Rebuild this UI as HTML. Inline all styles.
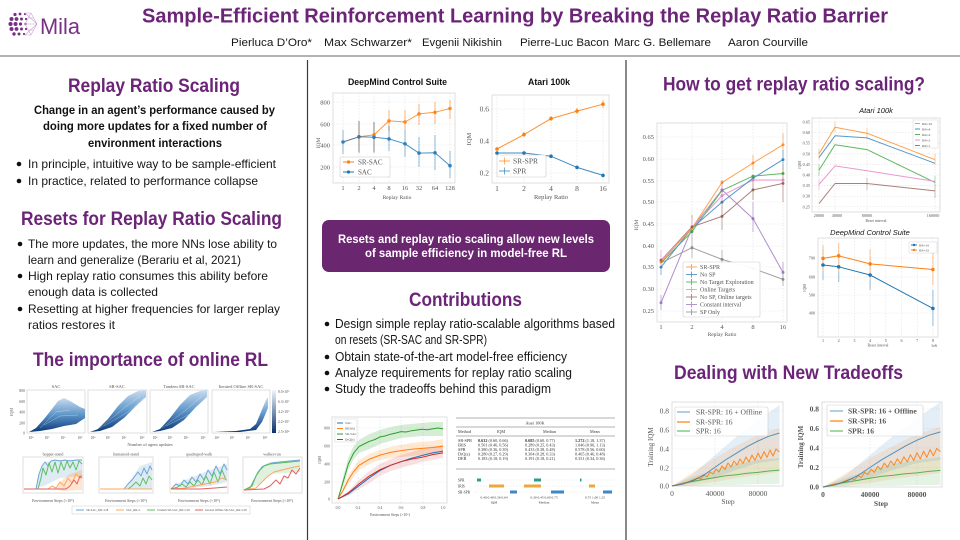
<!DOCTYPE html>
<html><head><meta charset="utf-8">
<style>
html,body{margin:0;padding:0;background:#fff;}
svg{display:block;}
.h{font-family:"Liberation Sans",sans-serif;font-weight:bold;fill:#6b2477;}
.t{font-family:"Liberation Sans",sans-serif;fill:#161616;}
.b{font-family:"Liberation Sans",sans-serif;fill:#111;font-weight:bold;}
.s{font-family:"Liberation Serif",serif;fill:#555;}
.ax{fill:#fff;stroke:#d8d8d8;stroke-width:0.8;}
.gr{stroke:#e2e2e2;stroke-width:0.6;stroke-dasharray:1.5 1.5;fill:none;}
.ln{fill:none;stroke-width:1;stroke-linejoin:round;}
</style></head><body>
<svg width="960" height="540" viewBox="0 0 960 540" xmlns="http://www.w3.org/2000/svg">
<defs>
<linearGradient id="bl" x1="0" y1="0" x2="0" y2="1">
<stop offset="0" stop-color="#c9dcf0"/><stop offset="0.5" stop-color="#5d95c8"/><stop offset="1" stop-color="#0d3a78"/>
</linearGradient>
<linearGradient id="cb" x1="0" y1="0" x2="0" y2="1">
<stop offset="0" stop-color="#f0f6fc"/><stop offset="1" stop-color="#08306b"/>
</linearGradient>
</defs>
<rect width="960" height="540" fill="#fff"/>

<!-- ===== HEADER ===== -->
<g fill="#7a2f86">
<circle cx="15" cy="14.5" r="1.6"/><circle cx="20" cy="14" r="1.4"/><circle cx="25" cy="14" r="1.1"/>
<circle cx="11.5" cy="19" r="2"/><circle cx="16.5" cy="19" r="1.9"/><circle cx="21.5" cy="19" r="1.5"/><circle cx="26" cy="19" r="1.1"/>
<circle cx="10.5" cy="24" r="2.1"/><circle cx="15.5" cy="24" r="2"/><circle cx="20.5" cy="24" r="1.6"/><circle cx="25.5" cy="24" r="1.2"/>
<circle cx="11.5" cy="29" r="2"/><circle cx="16.5" cy="29" r="1.9"/><circle cx="21.5" cy="29" r="1.5"/><circle cx="26" cy="29" r="1.1"/>
<circle cx="14" cy="34" r="1.7"/><circle cx="19" cy="34" r="1.5"/><circle cx="24" cy="34" r="1.1"/>
</g>
<g stroke="#c9a3d0" stroke-width="0.6" fill="none">
<path d="M25 13 L31 13 L37 24 L31 35 L25 35 M25 13 L37 24 M25 35 L37 24 M31 13 L25 24 L31 35 M25 24 L37 24 M28 18 L34 18 M28 30 L34 30"/>
</g>
<text x="40" y="34" class="h" style="font-weight:normal;fill:#7a2f86" font-size="22" textLength="40" lengthAdjust="spacingAndGlyphs">Mila</text>

<text x="142" y="22.5" class="h" font-size="20" textLength="746" lengthAdjust="spacingAndGlyphs">Sample-Efficient Reinforcement Learning by Breaking the Replay Ratio Barrier</text>
<g class="t" font-size="11">
<text x="231" y="46" textLength="81" lengthAdjust="spacingAndGlyphs">Pierluca D’Oro*</text>
<text x="324" y="46" textLength="88" lengthAdjust="spacingAndGlyphs">Max Schwarzer*</text>
<text x="422" y="46" textLength="80" lengthAdjust="spacingAndGlyphs">Evgenii Nikishin</text>
<text x="520" y="46" textLength="89" lengthAdjust="spacingAndGlyphs">Pierre-Luc Bacon</text>
<text x="614" y="46" textLength="97" lengthAdjust="spacingAndGlyphs">Marc G. Bellemare</text>
<text x="728" y="46" textLength="80" lengthAdjust="spacingAndGlyphs">Aaron Courville</text>
</g>
<line x1="0" y1="56" x2="960" y2="56" stroke="#9a9a9a" stroke-width="1.5"/>

<!-- dividers -->
<line x1="307.5" y1="60" x2="307.5" y2="540" stroke="#3a3a3a" stroke-width="1.2"/>
<line x1="626" y1="60" x2="626" y2="540" stroke="#3a3a3a" stroke-width="1.2"/>

<!-- ===== COLUMN 1 ===== -->
<text x="68" y="92" class="h" font-size="19" textLength="172" lengthAdjust="spacingAndGlyphs">Replay Ratio Scaling</text>
<g class="b" font-size="12">
<text x="34" y="114" textLength="241" lengthAdjust="spacingAndGlyphs">Change in an agent’s performance caused by</text>
<text x="43" y="130" textLength="224" lengthAdjust="spacingAndGlyphs">doing more updates for a fixed number of</text>
<text x="88" y="147" textLength="134" lengthAdjust="spacingAndGlyphs">environment interactions</text>
</g>
<g fill="#111">
<circle cx="19" cy="164" r="2.3"/><circle cx="19" cy="181" r="2.3"/>
<circle cx="20" cy="244" r="2.3"/><circle cx="20" cy="276" r="2.3"/><circle cx="20" cy="309" r="2.3"/>
</g>
<g class="t" font-size="12">
<text x="28" y="168" textLength="248" lengthAdjust="spacingAndGlyphs">In principle, intuitive way to be sample-efficient</text>
<text x="28" y="185" textLength="230" lengthAdjust="spacingAndGlyphs">In practice, related to performance collapse</text>
<text x="28" y="248" textLength="249" lengthAdjust="spacingAndGlyphs">The more updates, the more NNs lose ability to</text>
<text x="28" y="264" textLength="213" lengthAdjust="spacingAndGlyphs">learn and generalize (Berariu et al, 2021)</text>
<text x="28" y="280" textLength="240" lengthAdjust="spacingAndGlyphs">High replay ratio consumes this ability before</text>
<text x="28" y="296" textLength="130" lengthAdjust="spacingAndGlyphs">enough data is collected</text>
<text x="28" y="313" textLength="252" lengthAdjust="spacingAndGlyphs">Resetting at higher frequencies for larger replay</text>
<text x="28" y="329" textLength="87" lengthAdjust="spacingAndGlyphs">ratios restores it</text>
</g>
<text x="21" y="225" class="h" font-size="19" textLength="261" lengthAdjust="spacingAndGlyphs">Resets for Replay Ratio Scaling</text>
<text x="33" y="366" class="h" font-size="19" textLength="235" lengthAdjust="spacingAndGlyphs">The importance of online RL</text>

<!-- col1 figure top row -->
<g>
<rect x="27" y="390" width="58" height="43" class="ax"/>
<rect x="88" y="390" width="59" height="43" class="ax"/>
<rect x="150" y="390" width="58" height="43" class="ax"/>
<rect x="212" y="390" width="58" height="43" class="ax"/>
<polygon points="29,432 36,428 44,419 52,409 58,401 64,398 72,402 80,407 85,409 85,418 76,424 64,426 52,429 40,431" fill="url(#bl)"/>
<polygon points="90,432 98,429 108,419 118,406 128,396 138,391 146,390 146,397 136,406 124,418 112,427 100,431" fill="url(#bl)"/>
<polygon points="152,432 160,429 170,418 180,405 190,395 200,391 207,390 207,397 196,407 184,420 172,428 160,431" fill="url(#bl)"/>
<polygon points="214,432 236,431 250,429 256,424 261,412 266,400 268,397 268,408 262,422 256,430 240,432" fill="url(#bl)"/>
<g stroke="#fff" stroke-width="0.4" opacity="0.6" fill="none">
<path d="M40,428 L56,412 L70,410 M44,425 L60,416 L78,415 M100,428 L124,408 L140,396 M104,426 L128,412 L144,398 M162,428 L186,410 L202,396 M166,426 L190,414 L205,400"/>
</g>
<rect x="272" y="390" width="4" height="43" fill="url(#cb)"/>
<g class="s" font-size="4.5" text-anchor="middle">
<text x="56" y="388">SAC</text><text x="117" y="388">SR-SAC</text><text x="179" y="388">Tandem SR-SAC</text><text x="241" y="388">Iterated Offline SR-SAC</text>
<text x="150" y="446">Number of agent updates</text>
</g>
<g class="s" font-size="3.8" text-anchor="end">
<text x="25" y="392">800</text><text x="25" y="403">600</text><text x="25" y="413.5">400</text><text x="25" y="424.5">200</text><text x="25" y="434.5">0</text>
</g>
<g class="s" font-size="3.6">
<text x="278" y="393">8.0×10⁵</text><text x="278" y="403">6.3×10⁵</text><text x="278" y="413">4.2×10⁵</text><text x="278" y="423">2.2×10⁵</text><text x="278" y="433">2.5×10⁴</text>
</g>
<g class="s" font-size="3.6" text-anchor="middle">
<text x="31" y="439">10⁴</text><text x="47" y="439">10⁵</text><text x="63" y="439">10⁶</text><text x="80" y="439">10⁸</text>
<text x="93" y="439">10⁴</text><text x="108" y="439">10⁵</text><text x="124" y="439">10⁶</text><text x="142" y="439">10⁸</text>
<text x="155" y="439">10⁴</text><text x="170" y="439">10⁵</text><text x="186" y="439">10⁶</text><text x="203" y="439">10⁸</text>
<text x="217" y="439">10⁴</text><text x="232" y="439">10⁵</text><text x="248" y="439">10⁶</text><text x="265" y="439">10⁸</text>
</g>
<text transform="translate(13,412) rotate(-90)" class="s" font-size="4" text-anchor="middle">IQM</text>
</g>

<!-- col1 figure bottom row -->
<g>
<rect x="23" y="457" width="60" height="36" class="ax"/>
<rect x="99" y="457" width="54" height="36" class="ax"/>
<rect x="170" y="457" width="58" height="36" class="ax"/>
<rect x="243" y="457" width="59" height="36" class="ax"/>
<g class="s" font-size="4" text-anchor="middle">
<text x="53" y="455.5">hopper-stand</text><text x="126" y="455.5">humanoid-stand</text><text x="199" y="455.5">quadruped-walk</text><text x="272" y="455.5">walker-run</text>
<text x="53" y="502">Environment Steps (×10⁶)</text><text x="126" y="502">Environment Steps (×10⁶)</text><text x="199" y="502">Environment Steps (×10⁶)</text><text x="272" y="502">Environment Steps (×10⁶)</text>
</g>
<!-- hopper -->
<polygon points="36,488 40,470 46,462 60,460 82,460 82,476 60,478 44,486" fill="#1f77b4" opacity="0.15"/>
<polygon points="56,489 62,480 70,474 82,470 82,490 62,491" fill="#ff7f0e" opacity="0.2"/>
<polyline class="ln" stroke="#6aa6d6" points="24,489 36,489 39,474 42,466 45,462 48,466 51,461 55,460 60,461 65,460 70,461 76,460 82,460"/>
<polyline class="ln" stroke="#5fbf5f" points="24,489 38,489 41,478 43,468 46,475 49,463 52,472 55,462 58,473 61,462 64,470 67,461 70,468 73,462 76,470 79,461 82,464"/>
<polyline class="ln" stroke="#ffa75a" points="24,489 48,489 52,486 56,488 60,482 64,486 68,478 72,483 76,474 80,478 82,475"/>
<polyline class="ln" stroke="#e06060" points="24,489 66,489 70,486 74,480 77,484 80,476 82,478"/>
<!-- humanoid -->
<polygon points="124,489 132,478 140,466 152,462 152,489" fill="#1f77b4" opacity="0.15"/>
<polyline class="ln" stroke="#6aa6d6" points="100,489 124,489 128,484 132,480 135,476 138,472 141,476 144,468 147,474 150,466 152,470"/>
<polyline class="ln" stroke="#5fbf5f" points="100,489 128,489 132,486 136,482 140,486 143,478 146,484 149,476 152,480"/>
<polyline class="ln" stroke="#ffa75a" points="100,489 152,489"/>
<!-- quadruped -->
<polygon points="172,486 190,478 210,470 227,464 227,482 210,486 190,488" fill="#1f77b4" opacity="0.15"/>
<polyline class="ln" stroke="#6aa6d6" points="171,489 176,484 180,486 184,480 188,484 192,477 196,482 200,474 204,480 208,470 212,476 216,466 220,474 224,464 227,470"/>
<polyline class="ln" stroke="#5fbf5f" points="171,489 178,487 182,484 186,487 190,482 194,486 198,480 202,485 206,476 210,484 214,472 218,482 222,470 226,480"/>
<polyline class="ln" stroke="#ffa75a" points="171,489 185,488 195,486 205,484 215,482 222,478 227,480"/>
<polyline class="ln" stroke="#e06060" points="171,489 200,489 215,488 227,487"/>
<!-- walker -->
<polygon points="250,488 256,476 262,466 270,462 300,460 300,472 270,474 260,484" fill="#2ca02c" opacity="0.15"/>
<polyline class="ln" stroke="#6aa6d6" points="244,490 250,488 254,480 258,472 262,467 266,465 272,463 280,462 290,461 300,460"/>
<polyline class="ln" stroke="#5fbf5f" points="244,490 252,486 256,476 260,470 264,466 270,464 280,463 290,462 300,461"/>
<polyline class="ln" stroke="#ffa75a" points="244,490 256,488 262,482 268,476 274,472 282,470 290,468 300,466"/>
<polyline class="ln" stroke="#e06060" points="244,490 264,489 270,486 276,480 280,484 284,476 288,478 292,470 296,474 300,468"/>
<rect x="72" y="506" width="178" height="8" fill="#fff" stroke="#ccc" stroke-width="0.5"/>
<g stroke-width="1"><line x1="76" y1="510" x2="84" y2="510" stroke="#6aa6d6"/><line x1="116" y1="510" x2="124" y2="510" stroke="#ffa75a"/><line x1="147" y1="510" x2="155" y2="510" stroke="#5fbf5f"/><line x1="195" y1="510" x2="203" y2="510" stroke="#e06060"/></g>
<g class="s" font-size="3"><text x="86" y="511">SR-SAC_RR=128</text><text x="126" y="511">SAC_RR=1</text><text x="157" y="511">Tandem SR-SAC_RR=128</text><text x="205" y="511">Iterated Offline SR-SAC_RR=128</text></g>
</g>

<!-- ===== COLUMN 2 ===== -->
<text x="348" y="85" class="b" font-size="9.5" textLength="99" lengthAdjust="spacingAndGlyphs">DeepMind Control Suite</text>
<text x="528" y="85" class="b" font-size="9.5" textLength="42" lengthAdjust="spacingAndGlyphs">Atari 100k</text>

<!-- plot DMC RR -->
<rect x="333" y="93" width="122" height="90" class="ax"/>
<g class="gr">
<line x1="333" y1="102" x2="455" y2="102"/><line x1="333" y1="124" x2="455" y2="124"/><line x1="333" y1="145" x2="455" y2="145"/><line x1="333" y1="167" x2="455" y2="167"/>
<line x1="343" y1="93" x2="343" y2="183"/><line x1="359" y1="93" x2="359" y2="183"/><line x1="374" y1="93" x2="374" y2="183"/><line x1="389" y1="93" x2="389" y2="183"/><line x1="405" y1="93" x2="405" y2="183"/><line x1="419" y1="93" x2="419" y2="183"/><line x1="435" y1="93" x2="435" y2="183"/><line x1="450" y1="93" x2="450" y2="183"/>
</g>
<g stroke="#ff7f0e" stroke-width="1.6" opacity="0.35">
<line x1="389" y1="131" x2="389" y2="110"/><line x1="405" y1="130" x2="405" y2="110"/><line x1="419" y1="125" x2="419" y2="104"/><line x1="435" y1="124" x2="435" y2="102"/><line x1="450" y1="119" x2="450" y2="100"/><line x1="359" y1="152" x2="359" y2="121"/><line x1="374" y1="152" x2="374" y2="122"/>
</g>
<g stroke="#1f77b4" stroke-width="1.6" opacity="0.3">
<line x1="343" y1="154" x2="343" y2="130"/><line x1="359" y1="153" x2="359" y2="121"/><line x1="374" y1="153" x2="374" y2="122"/><line x1="389" y1="151" x2="389" y2="126"/><line x1="405" y1="157" x2="405" y2="130"/><line x1="419" y1="167" x2="419" y2="137"/><line x1="435" y1="170" x2="435" y2="135"/><line x1="450" y1="178" x2="450" y2="151"/>
</g>
<polyline class="ln" stroke="#ff7f0e" opacity="0.8" points="343,142 359,136.8 374,134.9 389,120.9 405,122 419,113.9 435,112.3 450,108.5"/>
<polyline class="ln" stroke="#1f77b4" opacity="0.8" points="343,142 359,136.8 374,137.3 389,138.9 405,143.8 419,153.1 435,152.8 450,165.7"/>
<g fill="#ff7f0e" opacity="0.85"><circle cx="359" cy="136.8" r="1.8"/><circle cx="374" cy="134.9" r="1.8"/><circle cx="389" cy="120.9" r="1.8"/><circle cx="405" cy="122" r="1.8"/><circle cx="419" cy="113.9" r="1.8"/><circle cx="435" cy="112.3" r="1.8"/><circle cx="450" cy="108.5" r="1.8"/></g>
<g fill="#1f77b4" opacity="0.85"><circle cx="343" cy="142" r="1.8"/><circle cx="359" cy="136.8" r="1.8"/><circle cx="374" cy="137.3" r="1.8"/><circle cx="389" cy="138.9" r="1.8"/><circle cx="405" cy="143.8" r="1.8"/><circle cx="419" cy="153.1" r="1.8"/><circle cx="435" cy="152.8" r="1.8"/><circle cx="450" cy="165.7" r="1.8"/></g>
<rect x="340" y="157" width="50" height="20" fill="#fff" stroke="#ccc" stroke-width="0.6" rx="1.5"/>
<line x1="343" y1="162" x2="354" y2="162" stroke="#ff7f0e"/><circle cx="348.5" cy="162" r="1.6" fill="#ff7f0e"/>
<line x1="343" y1="172" x2="354" y2="172" stroke="#1f77b4"/><circle cx="348.5" cy="172" r="1.6" fill="#1f77b4"/>
<g class="s" font-size="7"><text x="358" y="164.5">SR-SAC</text><text x="358" y="174.5">SAC</text></g>
<g class="s" font-size="6.5" text-anchor="end"><text x="330" y="104.5">800</text><text x="330" y="126.5">600</text><text x="330" y="147.5">400</text><text x="330" y="169.5">200</text></g>
<g class="s" font-size="6.5" text-anchor="middle"><text x="343" y="190">1</text><text x="359" y="190">2</text><text x="374" y="190">4</text><text x="389" y="190">8</text><text x="405" y="190">16</text><text x="419" y="190">32</text><text x="435" y="190">64</text><text x="450" y="190">128</text>
<text x="397" y="199" font-size="5.5">Replay Ratio</text></g>
<text transform="translate(320,143) rotate(-90)" class="s" font-size="5.5" text-anchor="middle">IQM</text>

<!-- plot Atari RR -->
<rect x="492" y="95" width="117" height="88" class="ax"/>
<g class="gr">
<line x1="492" y1="109" x2="609" y2="109"/><line x1="492" y1="141" x2="609" y2="141"/><line x1="492" y1="173" x2="609" y2="173"/>
<line x1="497" y1="95" x2="497" y2="183"/><line x1="524" y1="95" x2="524" y2="183"/><line x1="551" y1="95" x2="551" y2="183"/><line x1="577" y1="95" x2="577" y2="183"/><line x1="603" y1="95" x2="603" y2="183"/>
</g>
<g stroke="#ff7f0e" stroke-width="1.4" opacity="0.4"><line x1="603" y1="108" x2="603" y2="100"/><line x1="577" y1="114" x2="577" y2="108"/><line x1="551" y1="121" x2="551" y2="116"/><line x1="524" y1="137" x2="524" y2="132"/></g>
<polyline class="ln" stroke="#ff7f0e" opacity="0.85" points="497,149 524,134.6 551,118.6 577,111.1 603,104.2"/>
<polyline class="ln" stroke="#1f77b4" opacity="0.85" points="497,153 524,153 551,156.2 577,167.4 603,175.4"/>
<g fill="#ff7f0e"><circle cx="497" cy="149" r="1.8"/><circle cx="524" cy="134.6" r="1.8"/><circle cx="551" cy="118.6" r="1.8"/><circle cx="577" cy="111.1" r="1.8"/><circle cx="603" cy="104.2" r="1.8"/></g>
<g fill="#1f77b4"><circle cx="497" cy="153" r="1.8"/><circle cx="524" cy="153" r="1.8"/><circle cx="551" cy="156.2" r="1.8"/><circle cx="577" cy="167.4" r="1.8"/><circle cx="603" cy="175.4" r="1.8"/></g>
<rect x="497" y="155" width="49" height="22" fill="#fff" stroke="#ccc" stroke-width="0.6" rx="1.5"/>
<line x1="499" y1="161" x2="510" y2="161" stroke="#ff7f0e" opacity="0.7"/><line x1="504.5" y1="157.5" x2="504.5" y2="164.5" stroke="#ff7f0e" opacity="0.6"/>
<line x1="499" y1="171" x2="510" y2="171" stroke="#1f77b4" opacity="0.7"/><line x1="504.5" y1="167.5" x2="504.5" y2="174.5" stroke="#1f77b4" opacity="0.6"/>
<g class="s" font-size="7.5"><text x="513" y="163.5">SR-SPR</text><text x="513" y="173.5">SPR</text></g>
<g class="s" font-size="7.5" text-anchor="end"><text x="489" y="111.5">0.6</text><text x="489" y="143.5">0.4</text><text x="489" y="175.5">0.2</text></g>
<g class="s" font-size="7.5" text-anchor="middle"><text x="497" y="191">1</text><text x="524" y="191">2</text><text x="551" y="191">4</text><text x="577" y="191">8</text><text x="603" y="191">16</text>
<text x="551" y="199" font-size="6.5">Replay Ratio</text></g>
<text transform="translate(471,139) rotate(-90)" class="s" font-size="6.5" text-anchor="middle">IQM</text>

<!-- purple box -->
<rect x="322" y="220" width="288" height="52" rx="7" fill="#6a2770"/>
<g class="b" style="fill:#fff" font-size="12">
<text x="338" y="243" textLength="256" lengthAdjust="spacingAndGlyphs">Resets and replay ratio scaling allow new levels</text>
<text x="365" y="257" textLength="202" lengthAdjust="spacingAndGlyphs">of sample efficiency in model-free RL</text>
</g>

<text x="409" y="306" class="h" font-size="19" textLength="113" lengthAdjust="spacingAndGlyphs">Contributions</text>
<g fill="#111"><circle cx="327" cy="324" r="2.3"/><circle cx="327" cy="357" r="2.3"/><circle cx="327" cy="373" r="2.3"/><circle cx="327" cy="389" r="2.3"/></g>
<g class="t" font-size="12.5">
<text x="335" y="328" textLength="280" lengthAdjust="spacingAndGlyphs">Design simple replay ratio-scalable algorithms based</text>
<text x="335" y="344" textLength="152" lengthAdjust="spacingAndGlyphs">on resets (SR-SAC and SR-SPR)</text>
<text x="335" y="361" textLength="232" lengthAdjust="spacingAndGlyphs">Obtain state-of-the-art model-free efficiency</text>
<text x="335" y="377" textLength="237" lengthAdjust="spacingAndGlyphs">Analyze requirements for replay ratio scaling</text>
<text x="335" y="393" textLength="216" lengthAdjust="spacingAndGlyphs">Study the tradeoffs behind this paradigm</text>
</g>

<!-- contributions left plot -->
<rect x="332" y="417" width="115" height="86" class="ax"/>
<g class="gr">
<line x1="332" y1="428" x2="447" y2="428"/><line x1="332" y1="446" x2="447" y2="446"/><line x1="332" y1="464" x2="447" y2="464"/><line x1="332" y1="482" x2="447" y2="482"/>
<line x1="358" y1="417" x2="358" y2="503"/><line x1="380" y1="417" x2="380" y2="503"/><line x1="401" y1="417" x2="401" y2="503"/><line x1="423" y1="417" x2="423" y2="503"/>
</g>
<polygon points="338,499 343.25,476 348.5,457 353.75,446 359,440 369.5,434 380,430 390.5,427 401,425 411.5,424 422,423 432.5,422 443,422 443,436 432.5,436 422,436 411.5,437 401,438 390.5,441 380,444 369.5,449 359,453 353.75,459 348.5,469 343.25,486" fill="#2ca02c" opacity="0.2"/>
<polygon points="338,499 348.5,475 359,460 369.5,454 380,450 390.5,447 401,445 411.5,443 422,442 432.5,441 443,439 443,453 432.5,454 422,455 411.5,456 401,457 390.5,458 380,460 369.5,464 359,470 348.5,484" fill="#ff7f0e" opacity="0.18"/>
<polygon points="338,499 348.5,491 359,480 369.5,471 380,464 390.5,459 401,455 411.5,452 422,449 432.5,447 443,445 443,458 432.5,460 422,462 411.5,465 401,468 390.5,471 380,476 369.5,483 359,489 348.5,496" fill="#d62728" opacity="0.14"/>
<polyline class="ln" stroke="#2ca02c" stroke-width="1.2" points="338,499 343.25,481.3 348.5,463.5 353.75,452.9 359,446.6 364,444 369.5,441.3 375,439.5 380,436.9 385,436 390.5,434.2 396,433 401,431.6 406,432 411.5,430.7 417,430 422,429.3 427,429.8 432.5,428.9 438,428 443,428.9"/>
<polyline class="ln" stroke="#ff7f0e" stroke-width="1.2" points="338,499 343.25,490.1 348.5,479.5 353.75,471.5 359,465.3 369.5,459.1 380,455.1 390.5,452.4 401,450.6 411.5,449.3 422,448.4 432.5,447.5 443,446.2"/>
<polyline class="ln" stroke="#1f77b4" stroke-width="1.2" points="338,499 348.5,493.7 359,485.7 369.5,477.7 380,470.6 390.5,465.3 401,461.7 411.5,458.2 422,455.5 432.5,452.9 443,451.1"/>
<polyline class="ln" stroke="#d62728" stroke-width="1.2" points="338,499 348.5,492.8 359,483.9 369.5,475.9 380,469.7 390.5,465.3 401,461.7 411.5,459.1 422,457.3 432.5,454.6 443,452.9"/>
<rect x="335" y="419" width="22" height="23" fill="#fff" stroke="#ccc" stroke-width="0.4"/>
<g stroke-width="1"><line x1="337" y1="423" x2="343" y2="423" stroke="#1f77b4"/><line x1="337" y1="428.5" x2="343" y2="428.5" stroke="#ff7f0e"/><line x1="337" y1="434" x2="343" y2="434" stroke="#2ca02c"/><line x1="337" y1="439.5" x2="343" y2="439.5" stroke="#d62728"/></g>
<g class="s" font-size="3.3"><text x="345" y="424">SAC</text><text x="345" y="429.5">IRIS(k)</text><text x="345" y="435">SR-SAC</text><text x="345" y="440.5">DrQ(ε)</text></g>
<g class="s" font-size="3.8" text-anchor="end"><text x="330" y="429.5">800</text><text x="330" y="447.5">600</text><text x="330" y="465.5">400</text><text x="330" y="483.5">200</text><text x="330" y="500.5">0</text></g>
<g class="s" font-size="3.8" text-anchor="middle"><text x="338" y="509">0.0</text><text x="358" y="509">0.2</text><text x="380" y="509">0.4</text><text x="401" y="509">0.6</text><text x="423" y="509">0.8</text><text x="443" y="509">1.0</text>
<text x="390" y="516">Environment Steps (×10⁶)</text></g>
<text transform="translate(321,460) rotate(-90)" class="s" font-size="3.8" text-anchor="middle">IQM</text>

<!-- table -->
<g stroke="#666" stroke-width="0.6"><line x1="456" y1="418" x2="615" y2="418"/><line x1="456" y1="427" x2="615" y2="427"/><line x1="456" y1="436" x2="615" y2="436"/><line x1="456" y1="469" x2="615" y2="469"/></g>
<g class="s" font-size="4.2" style="fill:#333">
<text x="535" y="424.5" text-anchor="middle">Atari 100K</text>
<text x="458" y="433">Method</text><text x="497" y="433">IQM</text><text x="543" y="433">Median</text><text x="590" y="433">Mean</text>
<text x="458" y="442">SR-SPR</text><text x="478" y="442"><tspan font-weight="bold">0.632</tspan> (0.60, 0.66)</text><text x="525" y="442"><tspan font-weight="bold">0.685</tspan> (0.60, 0.77)</text><text x="575" y="442"><tspan font-weight="bold">1.272</tspan> (1.18, 1.37)</text>
<text x="458" y="446.5">IRIS</text><text x="478" y="446.5">0.501 (0.46, 0.56)</text><text x="525" y="446.5">0.289 (0.25, 0.43)</text><text x="575" y="446.5">1.046 (0.96, 1.13)</text>
<text x="458" y="451">SPR</text><text x="478" y="451">0.380 (0.36, 0.39)</text><text x="525" y="451">0.433 (0.38, 0.48)</text><text x="575" y="451">0.578 (0.56, 0.60)</text>
<text x="458" y="455.5">DrQ(ε)</text><text x="478" y="455.5">0.280 (0.27, 0.29)</text><text x="525" y="455.5">0.304 (0.28, 0.33)</text><text x="575" y="455.5">0.465 (0.46, 0.48)</text>
<text x="458" y="460">DER</text><text x="478" y="460">0.183 (0.18, 0.19)</text><text x="525" y="460">0.191 (0.18, 0.21)</text><text x="575" y="460">0.351 (0.34, 0.36)</text>
</g>
<g class="gr"><line x1="474" y1="480" x2="615" y2="480"/><line x1="474" y1="486" x2="615" y2="486"/><line x1="474" y1="492" x2="615" y2="492"/></g>
<g class="s" font-size="3.6" style="fill:#333"><text x="458" y="481.5">SPR</text><text x="458" y="487.5">IRIS</text><text x="458" y="493.5">SR-SPR</text></g>
<g>
<rect x="477" y="478.5" width="4" height="3" fill="#2a9d8f"/><rect x="489" y="484.5" width="15" height="3" fill="#e9a93d"/><rect x="510" y="490.5" width="7" height="3" fill="#3f86c4"/>
<rect x="534" y="478.5" width="7" height="3" fill="#2a9d8f"/><rect x="524" y="484.5" width="17" height="3" fill="#e9a93d"/><rect x="551" y="490.5" width="13" height="3" fill="#3f86c4"/>
<rect x="580" y="478.5" width="1.5" height="3" fill="#2a9d8f"/><rect x="589" y="484.5" width="6" height="3" fill="#e9a93d"/><rect x="603" y="490.5" width="9" height="3" fill="#3f86c4"/>
</g>
<g class="s" font-size="3.5" style="fill:#333" text-anchor="middle">
<text x="494" y="498.5">0.40 0.48 0.56 0.64</text><text x="544" y="498.5">0.30 0.45 0.60 0.75</text><text x="595" y="498.5">0.75 1.00 1.25</text>
<text x="494" y="503.5">IQM</text><text x="544" y="503.5">Median</text><text x="595" y="503.5">Mean</text>
</g>

<!-- ===== COLUMN 3 ===== -->
<text x="663" y="90.5" class="h" font-size="19" textLength="262" lengthAdjust="spacingAndGlyphs">How to get replay ratio scaling?</text>

<!-- big plot -->
<rect x="657" y="123" width="130" height="199" class="ax"/>
<g class="gr">
<line x1="657" y1="137" x2="787" y2="137"/><line x1="657" y1="159" x2="787" y2="159"/><line x1="657" y1="181" x2="787" y2="181"/><line x1="657" y1="202" x2="787" y2="202"/><line x1="657" y1="224" x2="787" y2="224"/><line x1="657" y1="246" x2="787" y2="246"/><line x1="657" y1="267" x2="787" y2="267"/><line x1="657" y1="289" x2="787" y2="289"/><line x1="657" y1="311" x2="787" y2="311"/>
<line x1="661" y1="123" x2="661" y2="322"/><line x1="692" y1="123" x2="692" y2="322"/><line x1="722" y1="123" x2="722" y2="322"/><line x1="753" y1="123" x2="753" y2="322"/><line x1="783" y1="123" x2="783" y2="322"/>
</g>
<g stroke-width="1.4" opacity="0.35">
<line x1="783" y1="156" x2="783" y2="133" stroke="#ff7f0e"/><line x1="753" y1="170" x2="753" y2="155" stroke="#ff7f0e"/>
<line x1="783" y1="170" x2="783" y2="150" stroke="#1f77b4"/><line x1="661" y1="275" x2="661" y2="258" stroke="#1f77b4"/>
<line x1="783" y1="202" x2="783" y2="165" stroke="#8c564b"/><line x1="753" y1="200" x2="753" y2="178" stroke="#8c564b"/><line x1="722" y1="230" x2="722" y2="202" stroke="#8c564b"/><line x1="692" y1="239" x2="692" y2="215" stroke="#8c564b"/>
<line x1="783" y1="281" x2="783" y2="262" stroke="#9467bd"/><line x1="753" y1="232" x2="753" y2="202" stroke="#9467bd"/><line x1="661" y1="310" x2="661" y2="295" stroke="#9467bd"/><line x1="722" y1="200" x2="722" y2="180" stroke="#9467bd"/>
<line x1="692" y1="258" x2="692" y2="238" stroke="#7f7f7f"/><line x1="722" y1="268" x2="722" y2="250" stroke="#7f7f7f"/><line x1="783" y1="286" x2="783" y2="272" stroke="#7f7f7f"/>
<line x1="661" y1="270" x2="661" y2="250" stroke="#e377c2"/><line x1="722" y1="205" x2="722" y2="186" stroke="#e377c2"/><line x1="692" y1="238" x2="692" y2="218" stroke="#e377c2"/>
</g>
<g opacity="0.75">
<polyline class="ln" stroke="#7f7f7f" points="661,262.9 692,247.7 722,259.4 753,268.5 783,279.4"/>
<polyline class="ln" stroke="#9467bd" points="661,302.8 692,228.1 722,189.9 753,218.6 783,272.4"/>
<polyline class="ln" stroke="#8c564b" points="661,260.3 692,226.8 722,216.4 753,189.9 783,183.4"/>
<polyline class="ln" stroke="#e377c2" points="661,260.7 692,228.1 722,195.6 753,180 783,180"/>
<polyline class="ln" stroke="#2ca02c" points="661,262.9 692,231.6 722,190.4 753,176.1 783,173.5"/>
<polyline class="ln" stroke="#1f77b4" points="661,267.2 692,228.1 722,202.1 753,178.2 783,159.6"/>
<polyline class="ln" stroke="#ff7f0e" points="661,262 692,228.1 722,182.6 753,163 783,144.8"/>
</g>
<g opacity="0.8">
<g fill="#ff7f0e"><circle cx="661" cy="262" r="1.5"/><circle cx="692" cy="228.1" r="1.5"/><circle cx="722" cy="182.6" r="1.5"/><circle cx="753" cy="163" r="1.5"/><circle cx="783" cy="144.8" r="1.5"/></g>
<g fill="#1f77b4"><circle cx="661" cy="267.2" r="1.5"/><circle cx="722" cy="202.1" r="1.5"/><circle cx="753" cy="178.2" r="1.5"/><circle cx="783" cy="159.6" r="1.5"/></g>
<g fill="#2ca02c"><circle cx="692" cy="231.6" r="1.5"/><circle cx="722" cy="190.4" r="1.5"/><circle cx="753" cy="176.1" r="1.5"/><circle cx="783" cy="173.5" r="1.5"/></g>
<g fill="#e377c2"><circle cx="722" cy="195.6" r="1.5"/><circle cx="753" cy="180" r="1.5"/><circle cx="783" cy="180" r="1.5"/></g>
<g fill="#8c564b"><circle cx="661" cy="260.3" r="1.5"/><circle cx="692" cy="226.8" r="1.5"/><circle cx="722" cy="216.4" r="1.5"/><circle cx="753" cy="189.9" r="1.5"/><circle cx="783" cy="183.4" r="1.5"/></g>
<g fill="#9467bd"><circle cx="661" cy="302.8" r="1.5"/><circle cx="722" cy="189.9" r="1.5"/><circle cx="753" cy="218.6" r="1.5"/><circle cx="783" cy="272.4" r="1.5"/></g>
<g fill="#7f7f7f"><circle cx="692" cy="247.7" r="1.5"/><circle cx="722" cy="259.4" r="1.5"/><circle cx="753" cy="268.5" r="1.5"/><circle cx="783" cy="279.4" r="1.5"/></g>
</g>
<rect x="683" y="262" width="77" height="55" fill="#fff" stroke="#ccc" stroke-width="0.6" rx="1.5" opacity="0.95"/>
<g stroke-width="1" opacity="0.7">
<line x1="686" y1="267" x2="697" y2="267" stroke="#ff7f0e"/><line x1="691.5" y1="264" x2="691.5" y2="270" stroke="#ff7f0e"/>
<line x1="686" y1="274.5" x2="697" y2="274.5" stroke="#1f77b4"/><line x1="691.5" y1="271.5" x2="691.5" y2="277.5" stroke="#1f77b4"/>
<line x1="686" y1="282" x2="697" y2="282" stroke="#2ca02c"/><line x1="691.5" y1="279" x2="691.5" y2="285" stroke="#2ca02c"/>
<line x1="686" y1="289.5" x2="697" y2="289.5" stroke="#e377c2"/><line x1="691.5" y1="286.5" x2="691.5" y2="292.5" stroke="#e377c2"/>
<line x1="686" y1="297" x2="697" y2="297" stroke="#8c564b"/><line x1="691.5" y1="294" x2="691.5" y2="300" stroke="#8c564b"/>
<line x1="686" y1="304.5" x2="697" y2="304.5" stroke="#9467bd"/><line x1="691.5" y1="301.5" x2="691.5" y2="307.5" stroke="#9467bd"/>
<line x1="686" y1="312" x2="697" y2="312" stroke="#7f7f7f"/><line x1="691.5" y1="309" x2="691.5" y2="315" stroke="#7f7f7f"/>
</g>
<g class="s" font-size="6"><text x="700" y="269">SR-SPR</text><text x="700" y="276.5">No SP</text><text x="700" y="284">No Target Exploration</text><text x="700" y="291.5">Online Targets</text><text x="700" y="299">No SP, Online targets</text><text x="700" y="306.5">Constant interval</text><text x="700" y="314">SP Only</text></g>
<g class="s" font-size="6.5" text-anchor="end"><text x="654" y="139">0.65</text><text x="654" y="161">0.60</text><text x="654" y="183">0.55</text><text x="654" y="204">0.50</text><text x="654" y="226">0.45</text><text x="654" y="248">0.40</text><text x="654" y="269">0.35</text><text x="654" y="291">0.30</text><text x="654" y="313">0.25</text></g>
<g class="s" font-size="6.5" text-anchor="middle"><text x="661" y="329">1</text><text x="692" y="329">2</text><text x="722" y="329">4</text><text x="753" y="329">8</text><text x="783" y="329">16</text>
<text x="722" y="336" font-size="5.5">Replay Ratio</text></g>
<text transform="translate(638,225) rotate(-90)" class="s" font-size="5.5" text-anchor="middle">IQM</text>

<!-- Atari small -->
<text x="876" y="113" class="t" font-size="7.5" font-style="italic" text-anchor="middle">Atari 100k</text>
<rect x="812" y="118" width="128" height="94" class="ax"/>
<g class="gr">
<line x1="812" y1="122" x2="940" y2="122"/><line x1="812" y1="132.6" x2="940" y2="132.6"/><line x1="812" y1="143.2" x2="940" y2="143.2"/><line x1="812" y1="153.8" x2="940" y2="153.8"/><line x1="812" y1="164.4" x2="940" y2="164.4"/><line x1="812" y1="175" x2="940" y2="175"/><line x1="812" y1="185.6" x2="940" y2="185.6"/><line x1="812" y1="196.2" x2="940" y2="196.2"/><line x1="812" y1="206.8" x2="940" y2="206.8"/>
<line x1="819" y1="118" x2="819" y2="212"/><line x1="835" y1="118" x2="835" y2="212"/><line x1="867" y1="118" x2="867" y2="212"/><line x1="935" y1="118" x2="935" y2="212"/>
</g>
<g opacity="0.75" stroke-width="0.9">
<polyline class="ln" stroke="#ff7f0e" points="819,153.8 835,127.3 867,133.2 935,159.7"/>
<polyline class="ln" stroke="#1f77b4" points="819,157.6 835,135.8 867,137.9 935,163.3"/>
<polyline class="ln" stroke="#2ca02c" points="819,170.1 835,144.7 867,149.6 935,182.4"/>
<polyline class="ln" stroke="#e377c2" points="819,184.5 835,165.9 867,170.8 935,181.4"/>
<polyline class="ln" stroke="#8c564b" points="819,203.6 835,183.5 867,183.5 935,190.9"/>
</g>
<g stroke-width="1" opacity="0.35">
<line x1="819" y1="149" x2="819" y2="160" stroke="#ff7f0e"/><line x1="835" y1="122" x2="835" y2="132" stroke="#ff7f0e"/><line x1="867" y1="128" x2="867" y2="139" stroke="#ff7f0e"/><line x1="935" y1="154" x2="935" y2="165" stroke="#ff7f0e"/>
<line x1="819" y1="164" x2="819" y2="176" stroke="#2ca02c"/><line x1="935" y1="176" x2="935" y2="188" stroke="#2ca02c"/><line x1="819" y1="179" x2="819" y2="190" stroke="#e377c2"/><line x1="935" y1="184" x2="935" y2="198" stroke="#8c564b"/><line x1="867" y1="178" x2="867" y2="190" stroke="#8c564b"/>
</g>
<rect x="913" y="120" width="25" height="28" fill="#fff" stroke="#ccc" stroke-width="0.4"/>
<g stroke-width="0.8"><line x1="915" y1="123.5" x2="920" y2="123.5" stroke="#ff7f0e"/><line x1="915" y1="129" x2="920" y2="129" stroke="#1f77b4"/><line x1="915" y1="134.5" x2="920" y2="134.5" stroke="#2ca02c"/><line x1="915" y1="140" x2="920" y2="140" stroke="#e377c2"/><line x1="915" y1="145.5" x2="920" y2="145.5" stroke="#8c564b"/></g>
<g class="s" font-size="3.5"><text x="922" y="125">RR=16</text><text x="922" y="130.5">RR=8</text><text x="922" y="136">RR=4</text><text x="922" y="141.5">RR=2</text><text x="922" y="147">RR=1</text></g>
<g class="s" font-size="4.2" text-anchor="end"><text x="810" y="123.5">0.65</text><text x="810" y="134">0.60</text><text x="810" y="144.7">0.55</text><text x="810" y="155.3">0.50</text><text x="810" y="166">0.45</text><text x="810" y="176.5">0.40</text><text x="810" y="187">0.35</text><text x="810" y="197.7">0.30</text><text x="810" y="208.3">0.25</text></g>
<g class="s" font-size="4.2" text-anchor="middle"><text x="819" y="217">20000</text><text x="837" y="217">40000</text><text x="867" y="217">80000</text><text x="933" y="217">160000</text>
<text x="876" y="222" font-size="3.8">Reset interval</text></g>
<text transform="translate(801,165) rotate(-90)" class="s" font-size="3.8" text-anchor="middle">IQM</text>

<!-- DMC small -->
<text x="870" y="235" class="t" font-size="7.5" font-style="italic" text-anchor="middle">DeepMind Control Suite</text>
<rect x="818" y="238" width="120" height="99" class="ax"/>
<g class="gr">
<line x1="818" y1="258" x2="938" y2="258"/><line x1="818" y1="277" x2="938" y2="277"/><line x1="818" y1="295" x2="938" y2="295"/><line x1="818" y1="313" x2="938" y2="313"/>
<line x1="823" y1="238" x2="823" y2="337"/><line x1="838.7" y1="238" x2="838.7" y2="337"/><line x1="854.4" y1="238" x2="854.4" y2="337"/><line x1="870.1" y1="238" x2="870.1" y2="337"/><line x1="885.8" y1="238" x2="885.8" y2="337"/><line x1="901.5" y1="238" x2="901.5" y2="337"/><line x1="917.2" y1="238" x2="917.2" y2="337"/><line x1="932.9" y1="238" x2="932.9" y2="337"/>
</g>
<g stroke-width="1.3" opacity="0.35">
<line x1="823" y1="249" x2="823" y2="280" stroke="#1f77b4"/><line x1="838.7" y1="252" x2="838.7" y2="282" stroke="#1f77b4"/><line x1="870.1" y1="258" x2="870.1" y2="290" stroke="#1f77b4"/><line x1="932.9" y1="290" x2="932.9" y2="326" stroke="#1f77b4"/>
<line x1="823" y1="245" x2="823" y2="272" stroke="#ff7f0e"/><line x1="838.7" y1="243" x2="838.7" y2="272" stroke="#ff7f0e"/><line x1="870.1" y1="249" x2="870.1" y2="280" stroke="#ff7f0e"/><line x1="932.9" y1="247" x2="932.9" y2="285" stroke="#ff7f0e"/>
</g>
<polyline class="ln" stroke="#ff7f0e" stroke-width="1.1" points="823,258.4 838.7,255.8 870.1,263.9 932.9,269.5"/>
<polyline class="ln" stroke="#1f77b4" stroke-width="1.1" points="823,265 838.7,266.8 870.1,275 932.9,308.4"/>
<g fill="#ff7f0e"><circle cx="823" cy="258.4" r="1.8"/><circle cx="838.7" cy="255.8" r="1.8"/><circle cx="870.1" cy="263.9" r="1.8"/><circle cx="932.9" cy="269.5" r="1.8"/></g>
<g fill="#1f77b4"><circle cx="823" cy="265" r="1.8"/><circle cx="838.7" cy="266.8" r="1.8"/><circle cx="870.1" cy="275" r="1.8"/><circle cx="932.9" cy="308.4" r="1.8"/></g>
<rect x="909" y="242" width="28" height="11" fill="#fff" stroke="#ccc" stroke-width="0.4"/>
<line x1="911" y1="245" x2="917" y2="245" stroke="#1f77b4"/><circle cx="914" cy="245" r="1.2" fill="#1f77b4"/>
<line x1="911" y1="250" x2="917" y2="250" stroke="#ff7f0e"/><circle cx="914" cy="250" r="1.2" fill="#ff7f0e"/>
<g class="s" font-size="3.5"><text x="919" y="246.5">RR=16</text><text x="919" y="251.5">RR=32</text></g>
<g class="s" font-size="4.2" text-anchor="end"><text x="815" y="259.5">700</text><text x="815" y="278.5">600</text><text x="815" y="296.5">500</text><text x="815" y="314.5">400</text></g>
<g class="s" font-size="4.2" text-anchor="middle"><text x="823" y="342">1</text><text x="838.7" y="342">2</text><text x="854.4" y="342">3</text><text x="870.1" y="342">4</text><text x="885.8" y="342">5</text><text x="901.5" y="342">6</text><text x="917.2" y="342">7</text><text x="932.9" y="342">8</text>
<text x="878" y="346.5" font-size="3.8">Reset interval</text><text x="934" y="347">1e6</text></g>
<text transform="translate(806,288) rotate(-90)" class="s" font-size="3.8" text-anchor="middle">IQM</text>

<text x="674" y="379" class="h" font-size="19" textLength="229" lengthAdjust="spacingAndGlyphs">Dealing with New Tradeoffs</text>

<!-- tradeoff left -->
<rect x="672" y="402" width="111" height="84" class="ax"/>
<g class="gr">
<line x1="672" y1="411" x2="783" y2="411"/><line x1="672" y1="430" x2="783" y2="430"/><line x1="672" y1="449" x2="783" y2="449"/><line x1="672" y1="468" x2="783" y2="468"/>
<line x1="715" y1="402" x2="715" y2="486"/><line x1="758" y1="402" x2="758" y2="486"/>
</g>
<polygon points="672,486 693,474 715,455 736,437 758,420 779.5,405 779.5,460 758,463 736,470 715,478 693,483" fill="#1f77b4" opacity="0.12"/>
<polygon points="672,486 693,472 715,458 736,446 758,435 779.5,428 779.5,472 758,475 736,478 715,482 693,485" fill="#ff7f0e" opacity="0.13"/>
<polygon points="672,486 693,477 715,470 736,464 758,460 779.5,458 779.5,484 758,484 736,485 715,485 693,486" fill="#2ca02c" opacity="0.12"/>
<polyline class="ln" stroke="#2ca02c" opacity="0.75" points="672,486 682.75,483.2 693.5,481.3 704.25,479.4 715,477.6 725.75,475.7 736.5,474.75 747.25,473.3 758,472.4 768.75,471 779.5,470.1"/>
<polyline class="ln" stroke="#ff7f0e" opacity="0.9" points="672,486 680,484 688,482 694,479.5 698,478 701,479 704,475 707,477 710,472 713,474 716,469 719,472 722,466 725,469.5 728,463 731,467 734,461 737,465 740,459 743,463.5 746,457 749,462 752,455 755,460.5 758,453 761,459 764,451.5 767,457.5 770,450 773,456 776,449 779.5,452"/>
<polyline class="ln" stroke="#1f77b4" opacity="0.75" points="672,486 682.75,484.1 693.5,480.4 704.25,474.75 715,467.25 725.75,459.75 736.5,453.2 747.25,446.6 758,441 768.75,436.3 779.5,433"/>
<rect x="675" y="407" width="93" height="29" fill="#fff" stroke="#ccc" stroke-width="0.6" rx="1.5" opacity="0.9"/>
<g stroke-width="1.2"><line x1="677" y1="412" x2="690" y2="412" stroke="#1f77b4" opacity="0.6"/><line x1="677" y1="422" x2="690" y2="422" stroke="#ff7f0e"/><line x1="677" y1="431" x2="690" y2="431" stroke="#2ca02c" opacity="0.7"/></g>
<g class="s" font-size="7.5"><text x="696" y="414.5">SR-SPR: 16 + Offline</text><text x="696" y="424.5">SR-SPR: 16</text><text x="696" y="433.5">SPR: 16</text></g>
<g class="s" font-size="7.5" text-anchor="end"><text x="669" y="413.5">0.8</text><text x="669" y="432.5">0.6</text><text x="669" y="451.5">0.4</text><text x="669" y="470.5">0.2</text><text x="669" y="488.5">0.0</text></g>
<g class="s" font-size="7.5" text-anchor="middle"><text x="672" y="496">0</text><text x="715" y="496">40000</text><text x="758" y="496">80000</text><text x="728" y="504">Step</text></g>
<text transform="translate(653,447) rotate(-90)" class="s" font-size="7" text-anchor="middle">Training IQM</text>

<!-- tradeoff right -->
<rect x="822" y="402" width="120" height="85" class="ax"/>
<g class="gr">
<line x1="822" y1="409" x2="942" y2="409"/><line x1="822" y1="428.5" x2="942" y2="428.5"/><line x1="822" y1="448" x2="942" y2="448"/><line x1="822" y1="467.5" x2="942" y2="467.5"/>
<line x1="870" y1="402" x2="870" y2="487"/><line x1="917" y1="402" x2="917" y2="487"/>
</g>
<polygon points="823,487 846,475 870,455 893,436 917,418 940.5,402 940.5,460 917,463 893,470 870,478 846,484" fill="#1f77b4" opacity="0.12"/>
<polygon points="823,487 846,473 870,458 893,446 917,434 940.5,427 940.5,473 917,476 893,479 870,483 846,486" fill="#ff7f0e" opacity="0.13"/>
<polygon points="823,487 846,478 870,470 893,464 917,460 940.5,457 940.5,485 917,485 893,486 870,486 846,487" fill="#2ca02c" opacity="0.12"/>
<polyline class="ln" stroke="#2ca02c" opacity="0.75" points="823,487 834.75,484.1 846.5,482.1 858.25,480.2 870,478.2 881.75,476.3 893.5,475.3 905.25,473.8 917,472.9 928.75,471.4 940.5,470.4"/>
<polyline class="ln" stroke="#ff7f0e" opacity="0.9" points="823,487 831.7,484.9 840.5,482.8 847,480.2 851.4,478.7 854.7,479.7 858,475.6 861.3,477.6 864.5,472.4 867.8,474.5 871.1,469.3 874.4,472.4 877.7,466.2 880.9,469.8 884.2,463.1 887.5,467.2 890.8,461 894,465.2 897.3,458.9 900.6,463.6 903.9,456.8 907.2,462 910.4,454.8 913.7,460.5 917,452.7 920.3,458.9 923.6,451.1 926.8,457.4 930.1,449.6 933.4,455.8 936.7,448.5 940.5,451.6"/>
<polyline class="ln" stroke="#1f77b4" opacity="0.75" points="823,487 834.75,485.05 846.5,481.15 858.25,475.3 870,467.5 881.75,459.7 893.5,452.9 905.25,446.05 917,440.2 928.75,435.3 940.5,431.9"/>
<rect x="827" y="405" width="96" height="31" fill="#fff" stroke="#ccc" stroke-width="0.6" rx="1.5" opacity="0.9"/>
<g stroke-width="1.2"><line x1="830" y1="411" x2="843" y2="411" stroke="#1f77b4" opacity="0.6"/><line x1="830" y1="421" x2="843" y2="421" stroke="#ff7f0e"/><line x1="830" y1="431" x2="843" y2="431" stroke="#2ca02c" opacity="0.7"/></g>
<g class="s" font-size="7.5" font-weight="bold"><text x="848" y="413.5">SR-SPR: 16 + Offline</text><text x="848" y="423.5">SR-SPR: 16</text><text x="848" y="433.5">SPR: 16</text></g>
<g class="s" font-size="7.5" text-anchor="end" font-weight="bold"><text x="819" y="411.5">0.8</text><text x="819" y="431">0.6</text><text x="819" y="450.5">0.4</text><text x="819" y="470">0.2</text><text x="819" y="489.5">0.0</text></g>
<g class="s" font-size="7.5" text-anchor="middle" font-weight="bold"><text x="823" y="497">0</text><text x="870" y="497">40000</text><text x="917" y="497">80000</text><text x="881" y="506">Step</text></g>
<text transform="translate(803,447) rotate(-90)" class="s" font-size="7" font-weight="bold" text-anchor="middle">Training IQM</text>

</svg>
</body></html>
